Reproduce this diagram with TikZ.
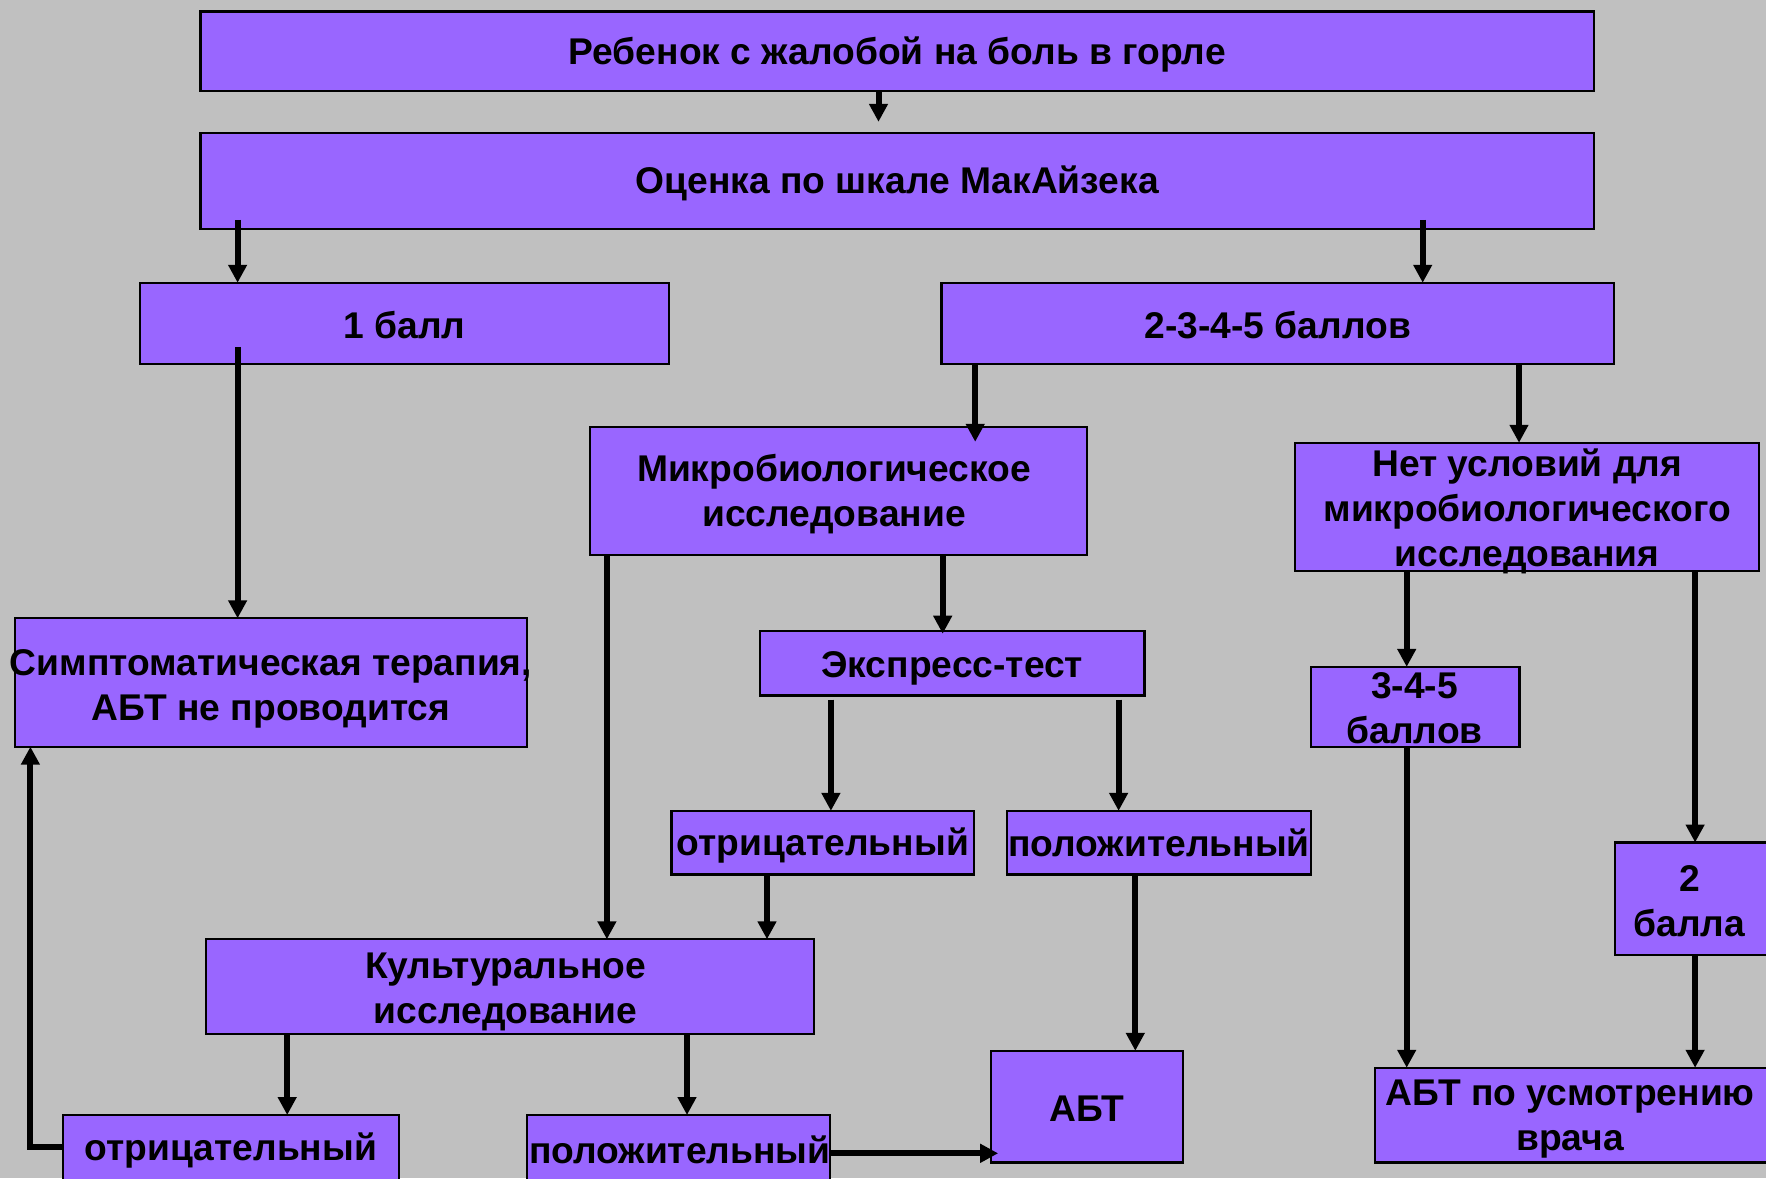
\documentclass[tikz,border=0pt]{standalone}
\usepackage{fontspec}
\setmainfont{Liberation Sans}
\usetikzlibrary{arrows.meta}
\definecolor{bgc}{HTML}{C0C0C0}
\definecolor{boxc}{HTML}{9966FF}
\begin{document}
\begin{tikzpicture}[x=1pt,y=-1pt,
  box/.style={draw=black, line width=2.3pt, fill=boxc, rectangle, inner sep=0pt, outer sep=0pt},
  txt/.style={font=\fontsize{37.2}{45}\selectfont\bfseries, align=center, inner sep=0pt, text=black},
  arr/.style={line width=6pt, -{Triangle[width=18pt,length=18pt]}}]
\useasboundingbox (0,0) rectangle (1766,1178);
\clip (0,0) rectangle (1766,1178);
\fill[bgc] (0,0) rectangle (1766,1178);

% boxes
\node[box, minimum width=1393.5pt, minimum height=79.5pt,
  label={[txt,yshift=-3pt]center:Ребенок с жалобой на боль в горле}] (top) at (897.3,51.3) {};
\node[box, minimum width=1393.5pt, minimum height=95.9pt,
  label={[txt,yshift=-2.8pt]center:Оценка по шкале МакАйзека}] (score) at (897.3,180.8) {};
\node[box, minimum width=529.3pt, minimum height=81.1pt,
  label={[txt,yshift=-2pt]center:1 балл}] (b1) at (404.4,323.3) {};
\node[box, minimum width=672.4pt, minimum height=81.1pt,
  label={[txt,yshift=-2pt]center:2-3-4-5 баллов}] (b2345) at (1277.8,323.3) {};
\node[box, minimum width=512.5pt, minimum height=128.4pt,
  label={[txt,yshift=-6.5pt]center:{Симптоматическая терапия,\\АБТ не проводится}}] (sym) at (270.9,682.5) {};
\node[box, minimum width=496.7pt, minimum height=128.2pt,
  label={[txt,xshift=-4.6pt,yshift=-3.5pt]center:{Микробиологическое\\исследование}}] (micro) at (838.6,490.9) {};
\node[box, minimum width=464pt, minimum height=128.3pt,
  label={[txt,yshift=-4.4pt]center:{Нет условий для\\микробиологического\\исследования}}] (noc) at (1527.2,506.9) {};
\node[box, minimum width=384.1pt, minimum height=64.8pt,
  label={[txt,yshift=-4.8pt]center:Экспресс-тест}] (expr) at (952.3,663.1) {};
\node[box, minimum width=302.9pt, minimum height=63.7pt,
  label={[txt,yshift=-3.2pt]center:отрицательный}] (neg1) at (822.8,842.7) {};
\node[box, minimum width=304.1pt, minimum height=63.7pt,
  label={[txt,yshift=0pt]center:положительный}] (pos1) at (1159,842.7) {};
\node[box, minimum width=608.2pt, minimum height=94.6pt,
  label={[txt,xshift=-4.5pt,yshift=-5pt]center:{Культуральное\\исследование}}] (cult) at (510.2,986.6) {};
\node[box, minimum width=335.6pt, minimum height=70pt,
  label={[txt,yshift=-1pt]center:отрицательный}] (neg2) at (230.9,1150) {};
\node[box, minimum width=303pt, minimum height=70pt,
  label={[txt,xshift=1.1pt,yshift=0.5pt]center:положительный}] (pos2) at (678.6,1150) {};
\node[box, minimum width=191.5pt, minimum height=111.6pt,
  label={[txt,yshift=-1.7pt]center:АБТ}] (abt) at (1086.9,1106.6) {};
\node[box, minimum width=208.3pt, minimum height=79.9pt,
  label={[txt,xshift=-0.6pt,yshift=-1.1pt]center:{3-4-5\\баллов}}] (b345) at (1415.2,706.8) {};
\node[box, minimum width=154.9pt, minimum height=112.6pt,
  label={[txt,xshift=-3.2pt,yshift=-2.2pt]center:{2\\балла}}] (b2) at (1692.6,898.8) {};
\node[box, minimum width=394.8pt, minimum height=94.7pt,
  label={[txt,xshift=-2.6pt,yshift=-4.4pt]center:{АБТ по усмотрению\\врача}}] (abtv) at (1572.6,1115.1) {};

% connectors
\draw[arr] (top.south -| 878.5,0) -- ([yshift=11pt]score.north -| 878.5,0);
\draw[arr] ([yshift=9pt]score.south -| 237.6,0) -- (b1.north -| 237.6,0);
\draw[arr] ([yshift=9pt]score.south -| 1422.7,0) -- (b2345.north -| 1422.7,0);
\draw[arr] ([yshift=17pt]b1.south -| 237.6,0) -- (sym.north -| 237.6,0);
\draw[arr] (b2345.south -| 975.2,0) -- ([yshift=-15pt]micro.north -| 975.2,0);
\draw[arr] (b2345.south -| 1519,0) -- (noc.north -| 1519,0);
\draw[arr] (micro.south -| 606.9,0) -- (cult.north -| 606.9,0);
\draw[arr] (micro.south -| 942.7,0) -- ([yshift=-3pt]expr.north -| 942.7,0);
\draw[arr] ([yshift=-4pt]expr.south -| 830.9,0) -- (neg1.north -| 830.9,0);
\draw[arr] ([yshift=-4pt]expr.south -| 1118.6,0) -- (pos1.north -| 1118.6,0);
\draw[arr] (neg1.south -| 767,0) -- (cult.north -| 767,0);
\draw[arr] (pos1.south -| 1135.3,0) -- (abt.north -| 1135.3,0);
\draw[arr] (cult.south -| 287.2,0) -- (neg2.north -| 287.2,0);
\draw[arr] (cult.south -| 687,0) -- (pos2.north -| 687,0);
\draw[arr] (neg2.west |- 0,1146.6) -| (sym.south -| 30.4,0);
\draw[arr] (pos2.east |- 0,1153.3) -- ([xshift=7pt]abt.west |- 0,1153.3);
\draw[arr] (noc.south -| 1406.7,0) -- (b345.north -| 1406.7,0);
\draw[arr] (noc.south -| 1695.1,0) -- (b2.north -| 1695.1,0);
\draw[arr] (b345.south -| 1406.7,0) -- (abtv.north -| 1406.7,0);
\draw[arr] (b2.south -| 1695.1,0) -- (abtv.north -| 1695.1,0);
\end{tikzpicture}
\end{document}
